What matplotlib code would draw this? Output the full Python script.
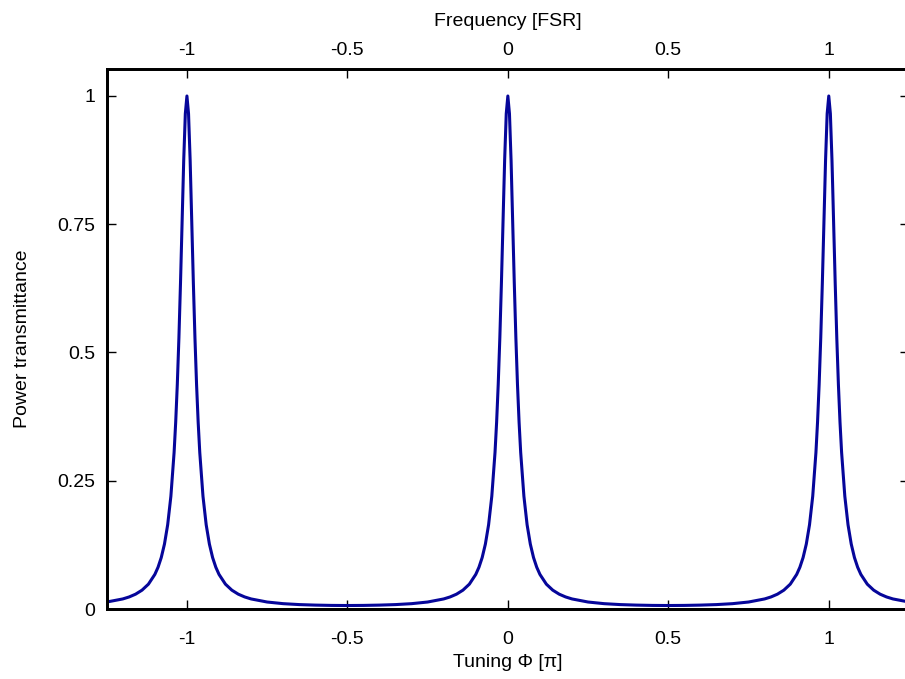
import matplotlib
matplotlib.use("Agg")
import matplotlib.pyplot as plt
from matplotlib.ticker import FuncFormatter

plt.rcParams['font.family'] = ['Liberation Sans', 'DejaVu Sans']
plt.rcParams['axes.unicode_minus'] = False

# Tuning Phi in units of pi
tuning = [
    -1.25, -1.20, -1.18, -1.16, -1.14, -1.12, -1.10, -1.09, -1.08, -1.07, -1.06,
    -1.05, -1.04, -1.035, -1.03, -1.025, -1.02, -1.015, -1.01, -1.005, -1.0,
    -0.995, -0.99, -0.985, -0.98, -0.975, -0.97, -0.965, -0.96, -0.95, -0.94,
    -0.93, -0.92, -0.91, -0.90, -0.88, -0.86, -0.84, -0.82, -0.80, -0.75,
    -0.70, -0.65, -0.60, -0.55, -0.50,
    -0.45, -0.40, -0.35, -0.30, -0.25, -0.20, -0.18, -0.16, -0.14, -0.12,
    -0.10, -0.09, -0.08, -0.07, -0.06, -0.05, -0.04, -0.035, -0.03, -0.025,
    -0.02, -0.015, -0.01, -0.005, 0.0,
    0.005, 0.01, 0.015, 0.02, 0.025, 0.03, 0.035, 0.04, 0.05, 0.06,
    0.07, 0.08, 0.09, 0.10, 0.12, 0.14, 0.16, 0.18, 0.20, 0.25,
    0.30, 0.35, 0.40, 0.45, 0.50,
    0.55, 0.60, 0.65, 0.70, 0.75, 0.80, 0.82, 0.84, 0.86, 0.88,
    0.90, 0.91, 0.92, 0.93, 0.94, 0.95, 0.96, 0.965, 0.97, 0.975,
    0.98, 0.985, 0.99, 0.995, 1.0,
    1.005, 1.01, 1.015, 1.02, 1.025, 1.03, 1.035, 1.04, 1.05, 1.06,
    1.07, 1.08, 1.09, 1.10, 1.12, 1.14, 1.16, 1.18, 1.20, 1.25,
]

transmittance = [
    0.0136, 0.0196, 0.0235, 0.0289, 0.0367, 0.0484, 0.0674, 0.0814, 0.1003, 0.1266, 0.1642,
    0.2199, 0.3051, 0.3642, 0.4378, 0.5284, 0.6363, 0.7566, 0.8748, 0.9655, 1.0,
    0.9655, 0.8748, 0.7566, 0.6363, 0.5284, 0.4378, 0.3642, 0.3051, 0.2199, 0.1642,
    0.1266, 0.1003, 0.0814, 0.0674, 0.0484, 0.0367, 0.0289, 0.0235, 0.0196, 0.0136,
    0.0104, 0.0086, 0.0076, 0.0070, 0.0068,
    0.0070, 0.0076, 0.0086, 0.0104, 0.0136, 0.0196, 0.0235, 0.0289, 0.0367, 0.0484,
    0.0674, 0.0814, 0.1003, 0.1266, 0.1642, 0.2199, 0.3051, 0.3642, 0.4378, 0.5284,
    0.6363, 0.7566, 0.8748, 0.9655, 1.0,
    0.9655, 0.8748, 0.7566, 0.6363, 0.5284, 0.4378, 0.3642, 0.3051, 0.2199, 0.1642,
    0.1266, 0.1003, 0.0814, 0.0674, 0.0484, 0.0367, 0.0289, 0.0235, 0.0196, 0.0136,
    0.0104, 0.0086, 0.0076, 0.0070, 0.0068,
    0.0070, 0.0076, 0.0086, 0.0104, 0.0136, 0.0196, 0.0235, 0.0289, 0.0367, 0.0484,
    0.0674, 0.0814, 0.1003, 0.1266, 0.1642, 0.2199, 0.3051, 0.3642, 0.4378, 0.5284,
    0.6363, 0.7566, 0.8748, 0.9655, 1.0,
    0.9655, 0.8748, 0.7566, 0.6363, 0.5284, 0.4378, 0.3642, 0.3051, 0.2199, 0.1642,
    0.1266, 0.1003, 0.0814, 0.0674, 0.0484, 0.0367, 0.0289, 0.0235, 0.0196, 0.0136,
]

x_ticks = [-1, -0.5, 0, 0.5, 1]
y_ticks = [0, 0.25, 0.5, 0.75, 1]
x_label = "Tuning \u03a6 [\u03c0]"
x_top_label = "Frequency [FSR]"
y_label = "Power transmittance"

FS = 14

fig = plt.figure(figsize=(9.05, 6.79), dpi=100)
ax = fig.add_axes([106.7 / 905, 70 / 679, (909 - 106.7) / 905, 540 / 679])

ax.plot(tuning, transmittance, color="#06069a", linewidth=2.2, solid_joinstyle="round")
ax.set_xlim(-1.25, 1.25)
ax.set_ylim(0, 1.0526)

fmt = FuncFormatter(lambda v, p: "%g" % v)
ax.set_xticks(x_ticks)
ax.set_yticks(y_ticks)
ax.xaxis.set_major_formatter(fmt)
ax.yaxis.set_major_formatter(fmt)
ax.tick_params(axis="both", direction="in", length=6.5, width=1.0, labelsize=FS)
ax.tick_params(axis="x", pad=15.8, bottom=True, top=False)
ax.tick_params(axis="y", pad=8, left=True, right=True)
ax.set_xlabel(x_label, fontsize=FS, labelpad=4.5)
ax.set_ylabel(y_label, fontsize=FS, labelpad=19.5)

top = ax.twiny()
top.set_xlim(ax.get_xlim())
top.set_xticks(x_ticks)
top.xaxis.set_major_formatter(fmt)
top.tick_params(axis="x", direction="in", length=6.5, width=1.0, labelsize=FS, pad=7.5)
top.set_xlabel(x_top_label, fontsize=FS, labelpad=11.5)

for a in (ax, top):
    for s in a.spines.values():
        s.set_linewidth(2.0)

fig.savefig("out.png", dpi=100)
